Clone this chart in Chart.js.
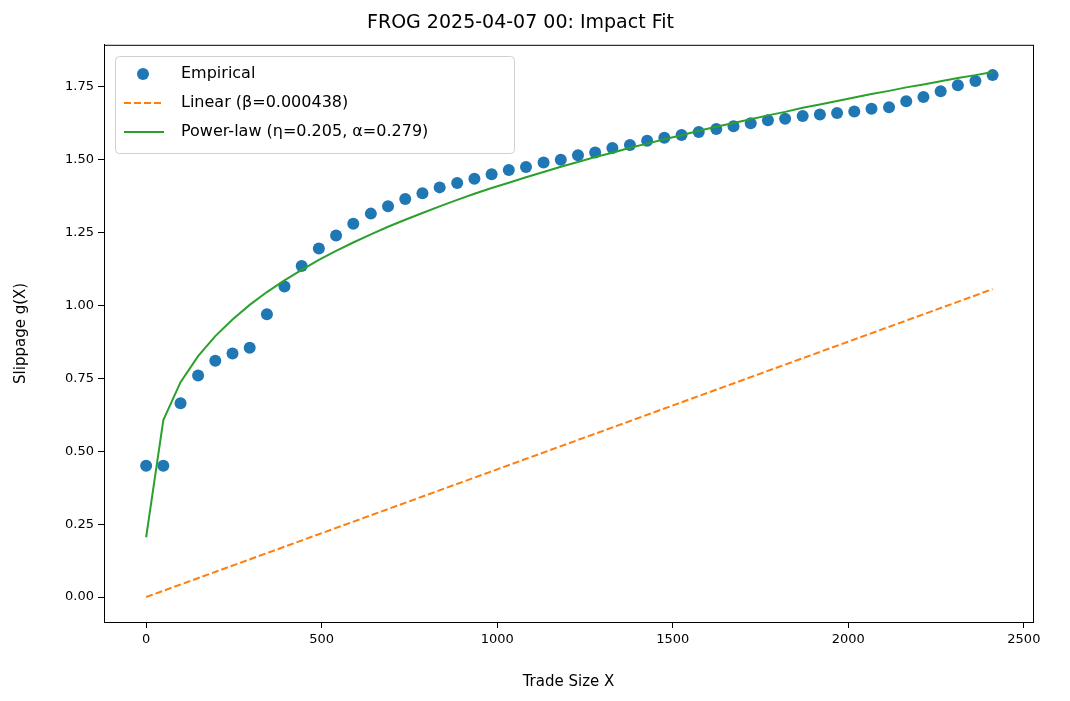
<!DOCTYPE html>
<html>
<head>
<meta charset="utf-8">
<script src="https://cdn.jsdelivr.net/npm/chart.js@4"></script>
<style>
  body { margin: 0; background: #fff; }
  #wrap { width: 1070px; height: 701px; }
</style>
</head>
<body>
<div id="wrap"><canvas id="c" width="1070" height="701"></canvas></div>
<script>
// trade sizes
const tradeX = [0,49,98,148,197,246,295,344,394,443,492,541,590,640,689,738,787,836,886,935,
  984,1033,1082,1132,1181,1230,1279,1328,1378,1427,1476,1525,1574,1624,1673,1722,1771,1820,1870,1919,
  1968,2017,2066,2116,2165,2214,2263,2312,2362,2411];
// empirical slippage
const empirical = [0.45,0.45,0.665,0.76,0.81,0.835,0.855,0.97,1.065,1.135,1.195,1.24,1.28,1.315,1.34,1.365,1.385,1.405,1.42,1.435,
  1.45,1.465,1.475,1.49,1.50,1.515,1.525,1.54,1.55,1.565,1.575,1.585,1.595,1.605,1.615,1.625,1.635,1.64,1.65,1.655,
  1.66,1.665,1.675,1.68,1.70,1.715,1.735,1.755,1.77,1.79];
// power-law fit values
const powerFit = [0.205,0.607,0.737,0.826,0.895,0.952,1.002,1.046,1.086,1.122,1.156,1.187,1.216,1.244,1.270,1.294,1.317,1.340,1.362,1.383,
  1.403,1.421,1.440,1.458,1.476,1.492,1.509,1.524,1.541,1.555,1.570,1.584,1.599,1.613,1.626,1.639,1.652,1.664,1.678,1.689,
  1.701,1.713,1.725,1.736,1.748,1.758,1.769,1.780,1.790,1.801];
// linear fit endpoints
const linearX = [0, 2411];
const linearY = [0, 1.056];
// tick labels
const xTicks = [0, 500, 1000, 1500, 2000, 2500];
const yTicks = [0, 0.25, 0.5, 0.75, 1, 1.25, 1.5, 1.75];

const FONT = 'DejaVu Sans';
const pts = (xs, ys) => xs.map((x, i) => ({ x: x, y: ys[i] }));

const legendItems = [
  { label: 'Empirical', type: 'dot', color: '#1f77b4' },
  { label: 'Linear (β=0.000438)', type: 'dash', color: '#ff7f0e' },
  { label: 'Power-law (η=0.205, α=0.279)', type: 'line', color: '#2ca02c' }
];

const framePlugin = {
  id: 'frame',
  afterDraw(chart) {
    const { ctx, chartArea: a } = chart;
    ctx.save();
    ctx.strokeStyle = '#000';
    ctx.lineWidth = 1;
    ctx.strokeRect(a.left + 0.5, a.top + 0.5, a.right - a.left, a.bottom - a.top);
    // legend
    const lx = 115, ly = 56, lw = 399, lh = 97;
    ctx.fillStyle = 'rgba(255,255,255,0.8)';
    ctx.strokeStyle = '#d0d0d0';
    ctx.beginPath();
    ctx.roundRect(lx + 0.5, ly + 0.5, lw, lh, 4);
    ctx.fill(); ctx.stroke();
    ctx.font = '16px ' + FONT;
    ctx.textBaseline = 'middle';
    legendItems.forEach((it, i) => {
      const y = ly + 18 + i * 29;
      ctx.strokeStyle = it.color; ctx.fillStyle = it.color;
      if (it.type === 'dot') {
        ctx.beginPath(); ctx.arc(143, y, 6, 0, Math.PI * 2); ctx.fill();
      } else {
        ctx.lineWidth = 2;
        ctx.setLineDash(it.type === 'dash' ? [7, 3] : []);
        ctx.beginPath(); ctx.moveTo(124, y); ctx.lineTo(164, y); ctx.stroke();
        ctx.setLineDash([]);
      }
      ctx.fillStyle = '#000';
      ctx.fillText(it.label, 181, y);
    });
    ctx.restore();
  }
};

new Chart(document.getElementById('c'), {
  type: 'scatter',
  data: {
    datasets: [
      { label: 'Empirical', data: pts(tradeX, empirical), backgroundColor: '#1f77b4', borderWidth: 0,
        pointRadius: 6, pointHoverRadius: 6, order: 1 },
      { label: 'Linear', data: pts(linearX, linearY), showLine: true, borderColor: '#ff7f0e',
        borderDash: [7, 3], borderWidth: 2, pointRadius: 0, order: 2 },
      { label: 'Power-law', data: pts(tradeX, powerFit), showLine: true, borderColor: '#2ca02c',
        borderWidth: 2, pointRadius: 0, order: 0 }
    ]
  },
  options: {
    responsive: false,
    animation: false,
    layout: { padding: { top: 0, right: 37, bottom: 8, left: 8 } },
    plugins: {
      legend: { display: false },
      tooltip: { enabled: false },
      title: { display: true, text: 'FROG 2025-04-07 00: Impact Fit', color: '#000',
        font: { family: FONT, size: 19, weight: 'normal' }, padding: { top: 12, bottom: 10 } }
    },
    scales: {
      x: {
        type: 'linear', min: -120, max: 2526,
        afterFit(s) { s.height = 71; },
        afterBuildTicks(s) { s.ticks = xTicks.map(v => ({ value: v })); },
        ticks: { color: '#000', font: { family: FONT, size: 13 }, padding: 4, maxRotation: 0,
          callback: v => String(v) },
        grid: { drawOnChartArea: false, color: '#000', tickLength: 6 },
        border: { color: '#000' },
        title: { display: true, text: 'Trade Size X', color: '#000', font: { family: FONT, size: 15 }, padding: 2 }
      },
      y: {
        min: -0.0856, max: 1.894,
        afterFit(s) { s.width = 96; },
        afterBuildTicks(s) { s.ticks = yTicks.map(v => ({ value: v })); },
        ticks: { color: '#000', font: { family: FONT, size: 13 }, padding: 4,
          callback: v => v.toFixed(2) },
        grid: { drawOnChartArea: false, color: '#000', tickLength: 6 },
        border: { color: '#000' },
        title: { display: true, text: 'Slippage g(X)', color: '#000', font: { family: FONT, size: 15 }, padding: 4 }
      }
    }
  },
  plugins: [framePlugin]
});
</script>
</body>
</html>
